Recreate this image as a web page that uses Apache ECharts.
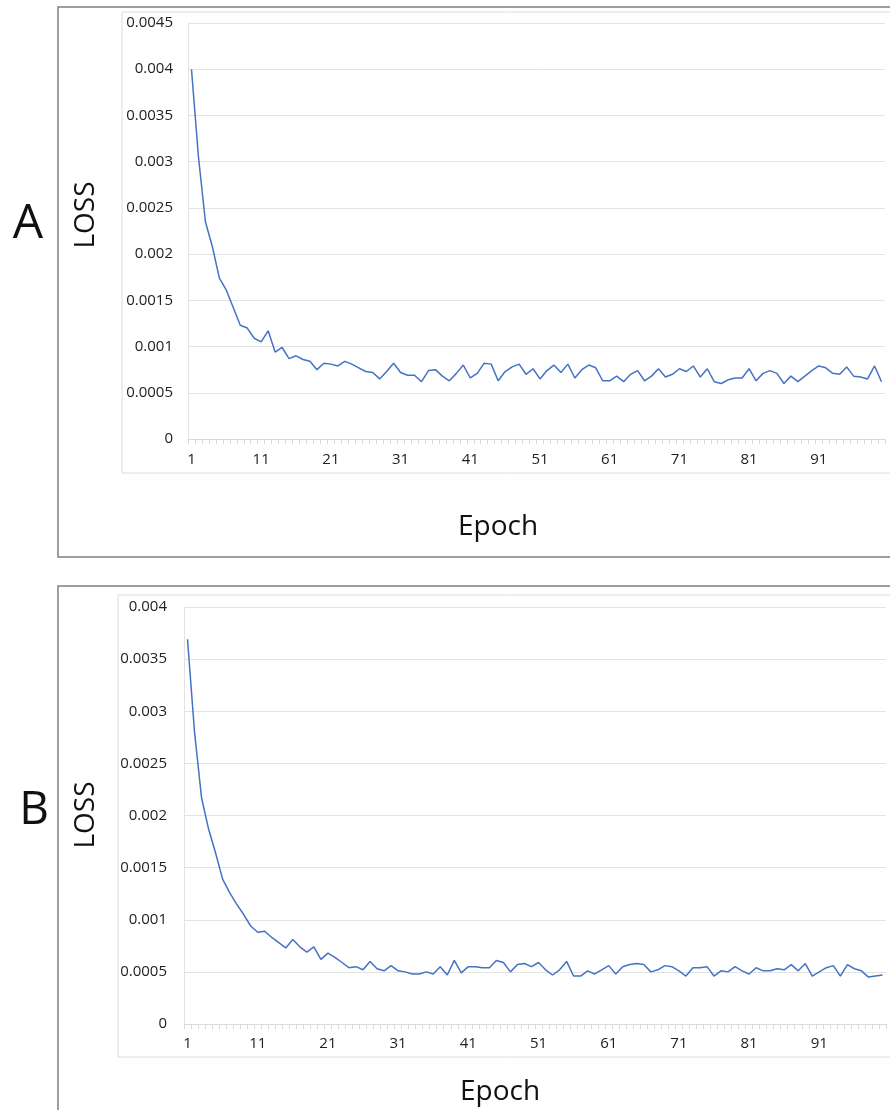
<!DOCTYPE html>
<html>
<head>
<meta charset="utf-8">
<script src="https://cdn.jsdelivr.net/npm/echarts@6/dist/echarts.min.js"></script>
<style>
  html, body { margin: 0; padding: 0; background: #fff; }
  #chart { width: 890px; height: 1110px; }
</style>
</head>
<body>
<div id="chart"></div>
<script>
// epoch categories 1..100
const epochs = [];
for (let i = 1; i <= 100; i++) epochs.push(String(i));

const lossA = [
  0.0040, 0.00305, 0.00235, 0.00208, 0.00174, 0.00161, 0.00142, 0.00123, 0.00120, 0.00109,
  0.00105, 0.00117, 0.00094, 0.00099, 0.00087, 0.00090, 0.00086, 0.00084, 0.00075, 0.00082,
  0.00081, 0.00079, 0.00084, 0.00081, 0.00077, 0.00073, 0.00072, 0.00065, 0.00073, 0.00082,
  0.00072, 0.00069, 0.00069, 0.00062, 0.00074, 0.00075, 0.00068, 0.00063, 0.00071, 0.00080,
  0.00066, 0.00071, 0.00082, 0.00081, 0.00063, 0.00073, 0.00078, 0.00081, 0.00070, 0.00076,
  0.00065, 0.00074, 0.00080, 0.00072, 0.00081, 0.00066, 0.00075, 0.00080, 0.00077, 0.00063,
  0.00063, 0.00068, 0.00062, 0.00070, 0.00074, 0.00063, 0.00068, 0.00076, 0.00067, 0.00070,
  0.00076, 0.00073, 0.00079, 0.00067, 0.00076, 0.00062, 0.00060, 0.00064, 0.00066, 0.00066,
  0.00076, 0.00063, 0.00071, 0.00074, 0.00071, 0.00060, 0.00068, 0.00062, 0.00068, 0.00074,
  0.00079, 0.00077, 0.00071, 0.00070, 0.00078, 0.00068, 0.00067, 0.00065, 0.00079, 0.00062
];

const lossB = [
  0.00369, 0.00280, 0.00217, 0.00187, 0.00164, 0.00139, 0.00126, 0.00115, 0.00105, 0.00094,
  0.00088, 0.00089, 0.00083, 0.00078, 0.00073, 0.00081, 0.00074, 0.00069, 0.00074, 0.00062,
  0.00068, 0.00064, 0.00059, 0.00054, 0.00055, 0.00052, 0.00060, 0.00053, 0.00051, 0.00056,
  0.00051, 0.00050, 0.00048, 0.00048, 0.00050, 0.00048, 0.00055, 0.00047, 0.00061, 0.00049,
  0.00055, 0.00055, 0.00054, 0.00054, 0.00061, 0.00059, 0.00050, 0.00057, 0.00058, 0.00055,
  0.00059, 0.00052, 0.00047, 0.00052, 0.00060, 0.00046, 0.00046, 0.00051, 0.00048, 0.00052,
  0.00056, 0.00048, 0.00055, 0.00057, 0.00058, 0.00057, 0.00050, 0.00052, 0.00056, 0.00055,
  0.00051, 0.00046, 0.00054, 0.00054, 0.00055, 0.00046, 0.00051, 0.00050, 0.00055, 0.00051,
  0.00048, 0.00054, 0.00051, 0.00051, 0.00053, 0.00052, 0.00057, 0.00051, 0.00058, 0.00046,
  0.00050, 0.00054, 0.00056, 0.00046, 0.00057, 0.00053, 0.00051, 0.00045, 0.00046, 0.00047
];

const yMaxA = 0.0045;
const yMaxB = 0.004;
const yStep = 0.0005;

const font = '"Open Sans", "Liberation Sans", sans-serif';
const gridColor = '#e3e3e3';
const lineColor = '#4472C4';

function xAxisFor(gridIndex, margin) {
  return {
    type: 'category',
    gridIndex: gridIndex,
    data: epochs,
    boundaryGap: true,
    axisLine: { lineStyle: { color: '#d9d9d9' } },
    axisTick: { show: true, interval: 0, length: 5, lineStyle: { color: '#d9d9d9' } },
    axisLabel: { interval: 9, margin: margin, fontSize: 15, color: '#222', fontFamily: font }
  };
}

function yAxisFor(gridIndex, max, margin) {
  return {
    type: 'value',
    gridIndex: gridIndex,
    min: 0,
    max: max,
    interval: yStep,
    axisLine: { show: true, lineStyle: { color: '#e3e3e3' } },
    axisTick: { show: false },
    splitLine: { lineStyle: { color: gridColor } },
    axisLabel: {
      margin: margin, fontSize: 15, color: '#222', fontFamily: font,
      formatter: v => v === 0 ? '0' : String(+v.toFixed(4))
    }
  };
}

function label(text, x, y, size, rot) {
  return {
    type: 'text', x: x, y: y, rotation: rot || 0, z: 10,
    style: { text: text, x: 0, y: 0, align: 'center', verticalAlign: 'middle',
             fontSize: size, fontFamily: font, fill: '#111' }
  };
}

const chart = echarts.init(document.getElementById('chart'));

chart.setOption({
  animation: false,
  backgroundColor: '#fff',
  grid: [
    { left: 188, top: 23, width: 697, height: 416 },
    { left: 184, top: 607, width: 702, height: 417 }
  ],
  xAxis: [xAxisFor(0, 13), xAxisFor(1, 12)],
  yAxis: [yAxisFor(0, yMaxA, 15), yAxisFor(1, yMaxB, 17)],
  series: [
    { type: 'line', xAxisIndex: 0, yAxisIndex: 0, data: lossA, showSymbol: false,
      lineStyle: { color: lineColor, width: 1.5 }, itemStyle: { color: lineColor } },
    { type: 'line', xAxisIndex: 1, yAxisIndex: 1, data: lossB, showSymbol: false,
      lineStyle: { color: lineColor, width: 1.5 }, itemStyle: { color: lineColor } }
  ],
  graphic: [
    // outer panel boxes
    { type: 'rect', shape: { x: 58, y: 7, width: 900, height: 550 },
      style: { fill: 'none', stroke: '#7f7f7f', lineWidth: 1.5 }, z: -1 },
    { type: 'rect', shape: { x: 58, y: 586, width: 900, height: 600 },
      style: { fill: 'none', stroke: '#7f7f7f', lineWidth: 1.5 }, z: -1 },
    // inner chart-area frames
    { type: 'rect', shape: { x: 122, y: 12, width: 800, height: 461 },
      style: { fill: 'none', stroke: '#dcdcdc', lineWidth: 1 }, z: -1 },
    { type: 'rect', shape: { x: 118, y: 595, width: 800, height: 462 },
      style: { fill: 'none', stroke: '#dcdcdc', lineWidth: 1 }, z: -1 },
    label('A', 28, 224, 48),
    label('LOSS', 86, 215, 28, Math.PI / 2),
    label('Epoch', 498, 527, 28),
    label('B', 34, 811, 46),
    label('LOSS', 86, 815, 28, Math.PI / 2),
    label('Epoch', 500, 1092, 28)
  ]
});
</script>
</body>
</html>
